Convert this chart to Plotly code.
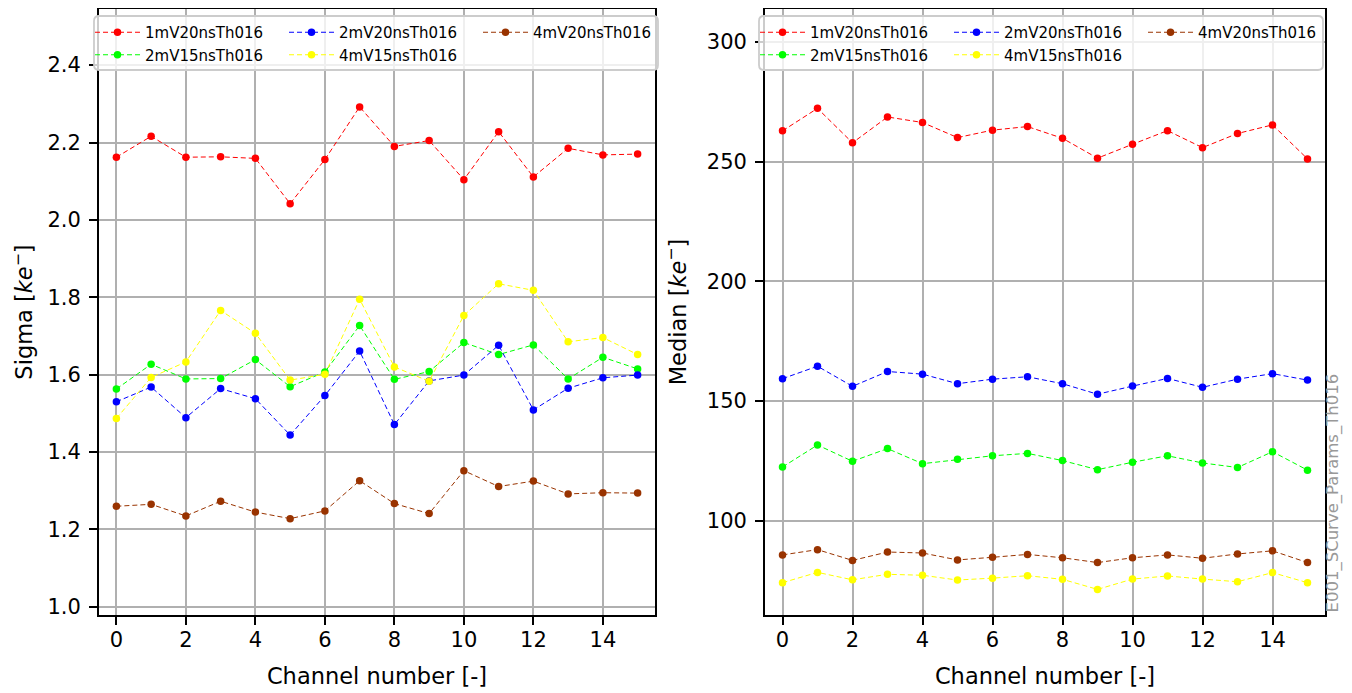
import plotly.graph_objects as go

channels = list(range(16))

series_names = ["1mV20nsTh016", "2mV15nsTh016", "2mV20nsTh016", "4mV15nsTh016", "4mV20nsTh016"]
series_colors = ["#ff0000", "#00ff00", "#0000ff", "#ffff00", "#993300"]
legend_row = [0, 1, 0, 1, 0]
legend_rank = [1, 1, 2, 2, 3]

sigma_1mV20 = [2.162, 2.216, 2.162, 2.163, 2.159, 2.042, 2.156, 2.292, 2.190, 2.205, 2.104, 2.228, 2.111, 2.185, 2.168, 2.170]
sigma_2mV15 = [1.563, 1.627, 1.589, 1.590, 1.639, 1.569, 1.607, 1.727, 1.588, 1.608, 1.683, 1.652, 1.677, 1.589, 1.645, 1.615]
sigma_2mV20 = [1.530, 1.568, 1.489, 1.564, 1.538, 1.444, 1.546, 1.661, 1.471, 1.584, 1.599, 1.676, 1.509, 1.565, 1.592, 1.599]
sigma_4mV15 = [1.487, 1.593, 1.633, 1.766, 1.707, 1.586, 1.601, 1.795, 1.620, 1.583, 1.753, 1.835, 1.818, 1.685, 1.696, 1.652]
sigma_4mV20 = [1.260, 1.265, 1.235, 1.273, 1.245, 1.228, 1.248, 1.326, 1.267, 1.241, 1.352, 1.311, 1.325, 1.292, 1.295, 1.294]

median_1mV20 = [262.8, 272.2, 257.8, 268.6, 266.3, 260.0, 263.1, 264.6, 259.7, 251.4, 257.2, 262.9, 255.8, 261.7, 265.3, 251.1]
median_2mV15 = [122.4, 131.6, 124.8, 130.1, 123.8, 125.6, 127.1, 128.1, 125.1, 121.3, 124.4, 127.1, 124.1, 122.2, 128.8, 121.1]
median_2mV20 = [159.3, 164.5, 156.1, 162.3, 161.2, 157.2, 159.1, 160.1, 157.2, 152.8, 156.2, 159.4, 155.7, 159.1, 161.4, 158.7]
median_4mV15 = [74.1, 78.4, 75.3, 77.6, 77.2, 75.2, 76.0, 77.0, 75.5, 71.3, 75.6, 76.9, 75.6, 74.5, 78.3, 74.1]
median_4mV20 = [85.7, 87.9, 83.4, 86.9, 86.5, 83.6, 84.7, 85.9, 84.5, 82.5, 84.5, 85.7, 84.3, 86.1, 87.4, 82.5]

sigma_data = [sigma_1mV20, sigma_2mV15, sigma_2mV20, sigma_4mV15, sigma_4mV20]
median_data = [median_1mV20, median_2mV15, median_2mV20, median_4mV15, median_4mV20]

sigma_ticks = [1.0, 1.2, 1.4, 1.6, 1.8, 2.0, 2.2, 2.4]
median_ticks = [100, 150, 200, 250, 300]
x_ticks = [0, 2, 4, 6, 8, 10, 12, 14]

FONT = "DejaVu Sans"
OFF = 8                      # page body margin of the html page
PAGE_W, PAGE_H = 1352, 693
W, H = PAGE_W - OFF, PAGE_H - OFF
# target plot area in page pixels
PX0, PX1, PY0, PY1 = 99, 1325, 9, 615
ML = PX0 - OFF
MR = OFF + W - PX1
MT = PY0 - OFF
MB = OFF + H - PY1
PW = PX1 - PX0
PH = PY1 - PY0


def px(xp):
    return (xp - PX0) / PW


def py(yp):
    return (PY1 - yp) / PH


fig = go.Figure()

panel_legends = [("x", "y", ["legend", "legend3"], sigma_data),
                 ("x2", "y2", ["legend2", "legend4"], median_data)]
for xa, ya, legs, data in panel_legends:
    for name, color, row, rank, ys in zip(series_names, series_colors, legend_row, legend_rank, data):
        fig.add_trace(go.Scatter(
            x=channels, y=ys, name=name, mode="lines+markers",
            line=dict(color=color, width=1, dash="5px,3px"),
            marker=dict(color=color, size=7.5),
            xaxis=xa, yaxis=ya, legend=legs[row], legendrank=rank,
        ))

axis_common = dict(
    showgrid=True, gridcolor="#b0b0b0", gridwidth=1.6,
    showline=True, linecolor="black", linewidth=1.8, mirror=True,
    ticks="outside", ticklen=8, tickwidth=1.6, tickcolor="black",
    zeroline=False,
    tickfont=dict(family=FONT, size=21, color="black"),
)
title_font = dict(family=FONT, size=22.5, color="black")

legend_common = dict(
    orientation="h", xanchor="left", yanchor="top",
    bgcolor="rgba(0,0,0,0)", borderwidth=0,
    font=dict(family=FONT, size=15, color="black"),
    entrywidth=134, entrywidthmode="pixels", traceorder="normal",
    itemwidth=45, tracegroupgap=0,
)


def rounded_box(x0, y0, x1, y1, r=5):
    X0, X1 = px(x0), px(x1)
    Y0, Y1 = py(y0), py(y1)
    rx, ry = r / PW, r / PH
    return (f"M{X0 + rx},{Y0} L{X1 - rx},{Y0} Q{X1},{Y0} {X1},{Y0 - ry} "
            f"L{X1},{Y1 + ry} Q{X1},{Y1} {X1 - rx},{Y1} L{X0 + rx},{Y1} "
            f"Q{X0},{Y1} {X0},{Y1 + ry} L{X0},{Y0 - ry} Q{X0},{Y0} {X0 + rx},{Y0} Z")


shapes = [
    dict(type="path", xref="paper", yref="paper", path=rounded_box(94, 16, 658, 70),
         fillcolor="rgba(255,255,255,0.8)", line=dict(color="#cccccc", width=1.8), layer="above"),
    dict(type="path", xref="paper", yref="paper", path=rounded_box(759, 16, 1323, 70),
         fillcolor="rgba(255,255,255,0.8)", line=dict(color="#cccccc", width=1.8), layer="above"),
]

ROW1_TOP, ROW2_TOP = 16, 38.5

fig.update_layout(
    width=W, height=H,
    margin=dict(l=ML, r=MR, t=MT, b=MB, autoexpand=False),
    plot_bgcolor="white", paper_bgcolor="white",
    font=dict(family=FONT, color="black"),
    xaxis=dict(axis_common, domain=[0, px(655)], range=[-0.5, 15.5], tickvals=x_ticks,
               ticklabelstandoff=-3,
               title=dict(text="Channel number [-]", font=title_font, standoff=17)),
    yaxis=dict(axis_common, domain=[0, 1], range=[0.979, 2.545], tickvals=sigma_ticks,
               tickformat=".1f", ticklabelstandoff=4,
               title=dict(text="Sigma [<i>ke</i><sup>\u2212</sup>]", font=title_font, standoff=14)),
    xaxis2=dict(axis_common, domain=[px(765), 1], range=[-0.5, 15.5], tickvals=x_ticks, anchor="y2",
                ticklabelstandoff=-3,
                title=dict(text="Channel number [-]", font=title_font, standoff=17)),
    yaxis2=dict(axis_common, domain=[0, 1], range=[60.6, 313.7], tickvals=median_ticks, anchor="x2",
                ticklabelstandoff=4,
                title=dict(text="Median [<i>ke</i><sup>\u2212</sup>]", font=title_font, standoff=14)),
    legend=dict(legend_common, x=px(90), y=py(ROW1_TOP)),
    legend3=dict(legend_common, x=px(90), y=py(ROW2_TOP)),
    legend2=dict(legend_common, x=px(755), y=py(ROW1_TOP)),
    legend4=dict(legend_common, x=px(755), y=py(ROW2_TOP)),
    shapes=shapes,
    annotations=[dict(
        text="E001_SCurve_Params_Th016", xref="paper", yref="paper",
        x=px(1332), y=0, xanchor="center", yanchor="bottom",
        textangle=-90, showarrow=False,
        font=dict(family=FONT, size=16.5, color="#999999"),
    )],
)

fig.write_html("out.html")
